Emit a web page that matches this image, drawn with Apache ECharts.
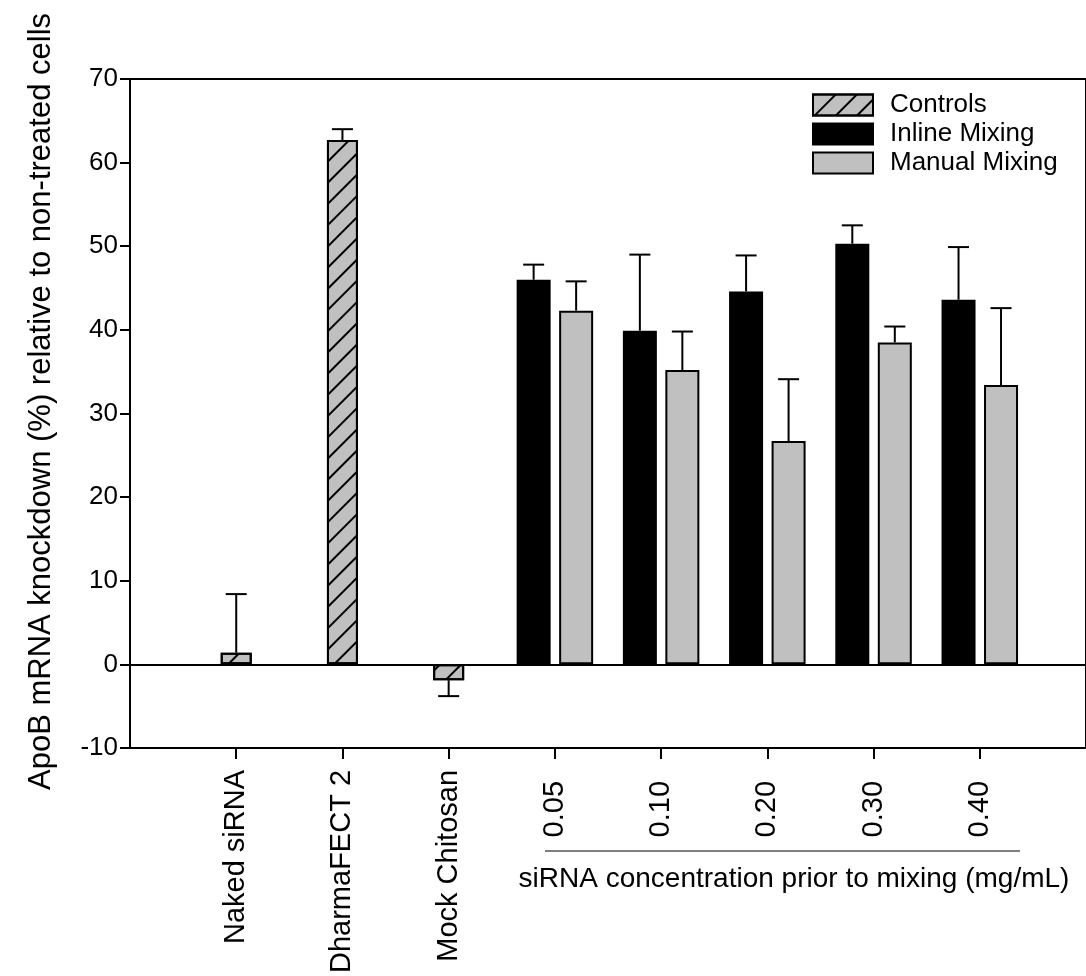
<!DOCTYPE html>
<html>
<head>
<meta charset="utf-8">
<script src="https://cdn.jsdelivr.net/npm/echarts@6/dist/echarts.min.js"></script>
<style>
  html, body { margin: 0; padding: 0; background: #fff; }
  #chart { width: 1086px; height: 976px; }
</style>
</head>
<body>
<div id="chart"></div>
<script>
// ApoB knockdown: controls and two mixing methods at five siRNA concentrations
const controlLabels = ['Naked siRNA', 'DharmaFECT 2', 'Mock Chitosan'];
const controlMean = [1.4, 62.7, -1.9];
const controlErr = [7.0, 1.3, 1.9];

const concLabels = ['0.05', '0.10', '0.20', '0.30', '0.40'];
const inlineMean = [46.0, 39.9, 44.6, 50.3, 43.6];
const inlineErr = [1.8, 9.1, 4.3, 2.2, 6.3];
const manualMean = [42.3, 35.2, 26.7, 38.5, 33.4];
const manualErr = [3.5, 4.6, 7.4, 1.9, 9.2];

const yTicks = { min: -10, max: 70, step: 10 };

// category slots: an empty slot at each end keeps the groups off the frame
const axisCats = [''].concat(controlLabels, concLabels, ['']);
const ctrlStart = 1;
const concStart = 1 + controlLabels.length;

function slotValues(values, start) {
  const out = axisCats.map(() => null);
  values.forEach((v, i) => { out[start + i] = v; });
  return out;
}
function errRows(means, errs, start) {
  return means.map((m, i) => [start + i, m, errs[i]]);
}

const FONT = "'Liberation Sans', Arial, Helvetica, sans-serif";
const ctrlBarW = 31, mixBarW = 34, mixGap = 0.25;
const mixOffset = (mixBarW * (1 + mixGap)) / 2;

function errorBarSeries(name, rows, dx) {
  return {
    type: 'custom',
    name: name + ' error',
    xAxisIndex: 0,
    yAxisIndex: 0,
    z: 5,
    silent: true,
    data: rows,
    renderItem: function (params, api) {
      const x = api.value(0), m = api.value(1), e = api.value(2);
      const end = m >= 0 ? m + e : m - e;
      const p0 = api.coord([x, m]);
      const p1 = api.coord([x, end]);
      const cx = p0[0] + dx;
      const half = 10.5;
      const st = { stroke: '#000', lineWidth: 2 };
      return {
        type: 'group',
        children: [
          { type: 'line', shape: { x1: cx, y1: p0[1], x2: cx, y2: p1[1] }, style: st },
          { type: 'line', shape: { x1: cx - half, y1: p1[1], x2: cx + half, y2: p1[1] }, style: st }
        ]
      };
    }
  };
}

const chart = echarts.init(document.getElementById('chart'), null, { renderer: 'canvas' });

const catAxisBase = {
  type: 'category',
  data: axisCats,
  boundaryGap: false,
  position: 'bottom'
};

chart.setOption({
  backgroundColor: '#fff',
  animation: false,
  textStyle: { fontFamily: FONT, color: '#000' },
  grid: {
    left: 130, top: 79, width: 959.4, height: 670,
    show: true, borderColor: '#000', borderWidth: 2, backgroundColor: 'transparent'
  },
  legend: {
    orient: 'vertical',
    left: 812, top: 92,
    padding: 0,
    itemWidth: 60, itemHeight: 21, itemGap: 3,
    icon: 'rect',
    textStyle: { fontSize: 26, lineHeight: 21, color: '#000', fontFamily: FONT, padding: [0, 0, 0, 12] },
    data: ['Controls', 'Inline Mixing', 'Manual Mixing'],
    selectedMode: false
  },
  xAxis: [
    Object.assign({}, catAxisBase, {
      axisLine: { show: true, onZero: false, lineStyle: { color: '#000', width: 2 } },
      axisTick: {
        show: true, inside: false, length: 11,
        lineStyle: { color: '#000', width: 2 },
        interval: function (i, v) { return v !== ''; }
      },
      axisLabel: {
        show: true, rotate: 90, margin: 22, interval: 0,
        fontSize: 29, color: '#000', fontFamily: FONT,
        formatter: function (v) {
          if (v === '') return '';
          return concLabels.indexOf(v) >= 0 ? '{n|' + v + '}' : v;
        },
        rich: { n: { fontSize: 29, fontFamily: FONT, color: '#000', padding: [0, 11, 0, 0] } }
      },
      splitLine: { show: false }
    }),
    Object.assign({}, catAxisBase, { show: false })
  ],
  yAxis: {
    type: 'value',
    min: yTicks.min, max: yTicks.max, interval: yTicks.step,
    name: 'ApoB mRNA knockdown (%) relative to non-treated cells',
    nameLocation: 'middle',
    nameGap: 73,
    nameTextStyle: { fontSize: 31, color: '#000', fontFamily: FONT, padding: [0, 0, 0, 24] },
    axisLine: { show: true, lineStyle: { color: '#000', width: 2 } },
    axisTick: { show: true, inside: false, length: 10, lineStyle: { color: '#000', width: 2 } },
    axisLabel: { fontSize: 26, color: '#000', margin: 12, fontFamily: FONT },
    splitLine: { show: false }
  },
  series: [
    {
      name: 'Controls',
      type: 'bar',
      xAxisIndex: 1,
      barWidth: ctrlBarW,
      data: slotValues(controlMean, ctrlStart),
      itemStyle: {
        color: '#c0c0c0', borderColor: '#000', borderWidth: 2,
        decal: {
          symbol: 'rect', symbolSize: 1,
          dashArrayX: [1, 0], dashArrayY: [2, 12.5],
          rotation: -Math.PI / 4, color: '#000'
        }
      }
    },
    {
      name: 'Inline Mixing',
      type: 'bar',
      xAxisIndex: 0,
      barWidth: mixBarW,
      barGap: (mixGap * 100) + '%',
      data: slotValues(inlineMean, concStart),
      itemStyle: { color: '#000', borderColor: '#000', borderWidth: 2 },
      markLine: {
        silent: true, symbol: 'none', label: { show: false },
        lineStyle: { color: '#000', width: 2, type: 'solid' },
        data: [{ yAxis: 0 }]
      }
    },
    {
      name: 'Manual Mixing',
      type: 'bar',
      xAxisIndex: 0,
      barWidth: mixBarW,
      barGap: (mixGap * 100) + '%',
      data: slotValues(manualMean, concStart),
      itemStyle: { color: '#c0c0c0', borderColor: '#000', borderWidth: 2 }
    },
    errorBarSeries('Controls', errRows(controlMean, controlErr, ctrlStart), 0),
    errorBarSeries('Inline Mixing', errRows(inlineMean, inlineErr, concStart), -mixOffset),
    errorBarSeries('Manual Mixing', errRows(manualMean, manualErr, concStart), mixOffset)
  ],
  graphic: [
    {
      type: 'line', z: 10,
      shape: { x1: 545, y1: 851, x2: 1020, y2: 851 },
      style: { stroke: '#555', lineWidth: 1.5 }
    },
    {
      type: 'text', z: 10,
      x: 794, y: 879,
      style: {
        text: 'siRNA concentration prior to mixing (mg/mL)',
        fontSize: 28, fontFamily: FONT, fill: '#000',
        align: 'center', verticalAlign: 'middle'
      }
    }
  ]
});
</script>
</body>
</html>
